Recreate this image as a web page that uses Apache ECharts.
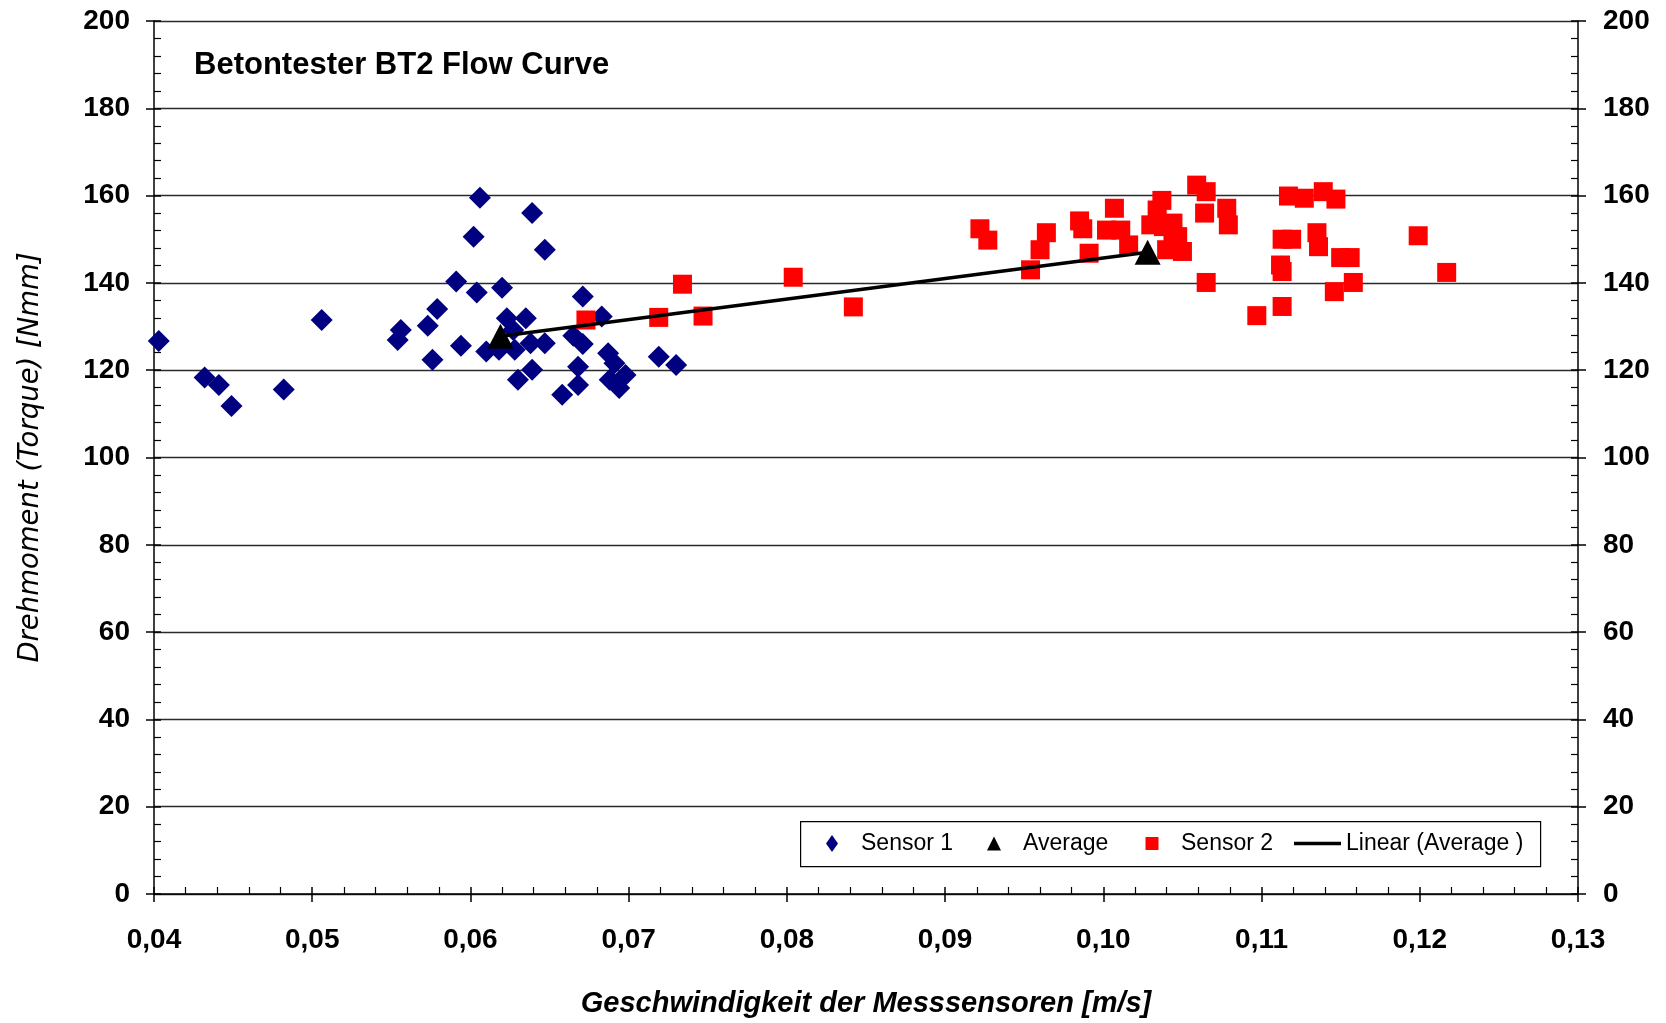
<!DOCTYPE html>
<html>
<head>
<meta charset="utf-8">
<script src="https://cdn.jsdelivr.net/npm/echarts@6/dist/echarts.min.js"></script>
<style>
html,body{margin:0;padding:0;background:#fff;}
#chart{width:1666px;height:1023px;}
</style>
</head>
<body>
<div id="chart"></div>
<script>
// ---- data ----
const sensor1X = [0.0403,0.0432,0.0441,0.0449,0.0482,0.0506,0.0554,0.0556,0.0573,0.0579,0.0576,0.0591,0.0594,0.0602,0.0606,0.0604,0.0610,0.0620,0.0623,0.0635,0.0627,0.0628,0.0630,0.0639,0.0638,0.0639,0.0647,0.0647,0.0658,0.0668,0.0668,0.0671,0.0665,0.0671,0.0683,0.0687,0.0688,0.0694,0.0691,0.0698,0.0719,0.0730,0.0618];
const sensor1Y = [126.7,118.3,116.6,111.8,115.6,131.5,126.9,129.2,130.2,134.0,122.4,140.3,125.6,150.6,159.5,137.8,124.3,138.9,131.9,131.9,129.2,124.7,117.8,120.1,126.2,156.0,147.6,126.2,114.4,116.6,120.8,136.9,127.9,126.0,132.3,123.9,117.8,115.9,121.6,118.9,123.1,121.2,124.7];

const sensor2X = [0.0673,0.0719,0.0734,0.0747,0.0804,0.0842,0.0922,0.0927,0.0954,0.0960,0.0964,0.0985,0.0987,0.0991,0.1002,0.1007,0.1011,0.1016,0.1030,0.1034,0.1037,0.1038,0.1040,0.1044,0.1047,0.1050,0.1044,0.1059,0.1065,0.1064,0.1065,0.1078,0.1079,0.1097,0.1112,0.1113,0.1113,0.1113,0.1119,0.1117,0.1127,0.1135,0.1136,0.1139,0.1146,0.1147,0.1150,0.1156,0.1158,0.1199,0.1217];
const sensor2Y = [131.5,132.1,139.7,132.4,141.3,134.5,152.4,149.8,143.0,147.6,151.5,154.2,152.4,146.8,152.1,157.1,152.1,148.7,153.3,156.7,158.9,152.9,147.6,153.7,150.6,147.2,149.8,162.4,160.9,156.0,140.1,157.1,153.3,132.5,144.1,142.6,134.6,150.0,150.0,159.9,159.4,151.5,148.3,160.9,138.0,159.2,145.8,145.8,140.1,150.8,142.4];

const averageX = [0.0619,0.1028];
const averageY = [127.8,147.0];

const trendX = [0.0619,0.1028];
const trendY = [127.8,147.0];

const seriesNames = ['Sensor 1','Average','Sensor 2','Linear (Average )'];
const titleText = 'Betontester BT2 Flow Curve';
const xTitle = 'Geschwindigkeit der Messsensoren [m/s]';
const yTitle = 'Drehmoment (Torque) [Nmm]';
const xMin = 0.04, xMax = 0.13, xStep = 0.01;
const yMin = 0, yMax = 200, yStep = 20;

// ---- build ----
const zip = (xs, ys) => xs.map((x, i) => [x, ys[i]]);
const FONT = 'Liberation Sans, Arial, sans-serif';
const tickLabel = {fontSize: 28, fontWeight: 'bold', color: '#000', fontFamily: FONT};
const axisLineStyle = {color: '#000', width: 1.5};

const legendIcons = [
  'path://M0,0M34,20M10,1.5L16,10L10,18.5L4,10Z',
  'path://M0,0M34,20M10,3L17,17L3,17Z',
  'path://M0,0M34,20M3.5,3.5H16.5V16.5H3.5Z',
  'path://M0,0M47,20M0,8.25H47V11.75H0Z'
];
const legendLefts = [822, 984, 1142, 1294];
const legendBase = {
  top: 832, padding: 0, selectedMode: false, symbolKeepAspect: true,
  itemHeight: 20, itemGap: 0,
  itemStyle: {borderWidth: 0},
  textStyle: {fontSize: 23, color: '#000', fontFamily: FONT}
};
const legends = seriesNames.map((n, i) => Object.assign({}, legendBase, {
  left: legendLefts[i],
  itemWidth: i === 3 ? 47 : 34,
  data: [{name: n, icon: legendIcons[i]}]
}));

const chart = echarts.init(document.getElementById('chart'), null, {renderer: 'canvas'});
chart.setOption({
  animation: false,
  backgroundColor: '#fff',
  title: {
    text: titleText, left: 194, top: 50, padding: 0,
    textStyle: {fontSize: 31, fontWeight: 'bold', color: '#000', fontFamily: FONT}
  },
  graphic: [{
    type: 'rect', left: 800, top: 821, z: 3,
    shape: {width: 740, height: 45},
    style: {fill: '#fff', stroke: '#000', lineWidth: 1.2}
  }],
  legend: legends,
  grid: {left: 154, top: 21, width: 1424, height: 873, containLabel: false},
  xAxis: [
    {
      type: 'value', position: 'bottom', min: xMin, max: xMax, interval: xStep,
      axisLine: {lineStyle: axisLineStyle},
      axisTick: {inside: true, length: 7, lineStyle: {color: '#000', width: 1.5}},
      minorTick: {show: true, splitNumber: 5, length: 7, lineStyle: {color: '#000', width: 1.2}},
      splitLine: {show: false},
      axisLabel: Object.assign({margin: 32, showMinLabel: true, showMaxLabel: true,
        formatter: v => v.toFixed(2).replace('.', ',')}, tickLabel),
      name: xTitle, nameLocation: 'middle', nameGap: 95,
      nameTextStyle: {fontSize: 29, fontWeight: 'bold', fontStyle: 'italic', color: '#000', fontFamily: FONT}
    },
    {
      type: 'value', position: 'bottom', min: xMin, max: xMax, interval: xStep,
      axisLine: {show: false},
      axisTick: {inside: false, length: 8, lineStyle: {color: '#000', width: 1.5}},
      axisLabel: {show: false}, splitLine: {show: false}
    }
  ],
  yAxis: [
    {
      type: 'value', position: 'left', min: yMin, max: yMax, interval: yStep,
      axisLine: {show: true, lineStyle: axisLineStyle},
      axisTick: {show: true, inside: true, length: 7, lineStyle: {color: '#000', width: 1.5}},
      minorTick: {show: true, splitNumber: 5, length: 7, lineStyle: {color: '#000', width: 1.2}},
      splitLine: {show: true, lineStyle: {color: '#2b2b2b', width: 1.3}},
      axisLabel: Object.assign({margin: 24}, tickLabel),
      name: yTitle, nameLocation: 'middle', nameGap: 110,
      nameTextStyle: {fontSize: 27.5, fontStyle: 'italic', fontWeight: 'normal', color: '#000', fontFamily: 'DejaVu Sans, sans-serif'}
    },
    {
      type: 'value', position: 'left', min: yMin, max: yMax, interval: yStep,
      axisLine: {show: false},
      axisTick: {show: true, inside: false, length: 8, lineStyle: {color: '#000', width: 1.5}},
      axisLabel: {show: false}, splitLine: {show: false}
    },
    {
      type: 'value', position: 'right', min: yMin, max: yMax, interval: yStep,
      axisLine: {show: true, lineStyle: axisLineStyle},
      axisTick: {show: true, inside: true, length: 7, lineStyle: {color: '#000', width: 1.5}},
      minorTick: {show: true, splitNumber: 5, length: 7, lineStyle: {color: '#000', width: 1.2}},
      splitLine: {show: false},
      axisLabel: Object.assign({margin: 25}, tickLabel)
    },
    {
      type: 'value', position: 'right', min: yMin, max: yMax, interval: yStep,
      axisLine: {show: false},
      axisTick: {show: true, inside: false, length: 8, lineStyle: {color: '#000', width: 1.5}},
      axisLabel: {show: false}, splitLine: {show: false}
    }
  ],
  series: [
    {
      name: seriesNames[0], type: 'scatter', xAxisIndex: 0, yAxisIndex: 0,
      data: zip(sensor1X, sensor1Y), symbol: 'diamond', symbolSize: 22,
      itemStyle: {color: '#000080', opacity: 1}
    },
    {
      name: seriesNames[1], type: 'scatter', xAxisIndex: 0, yAxisIndex: 0,
      data: zip(averageX, averageY), symbol: 'triangle', symbolSize: [26, 25],
      itemStyle: {color: '#000', opacity: 1}
    },
    {
      name: seriesNames[2], type: 'scatter', xAxisIndex: 0, yAxisIndex: 0,
      data: zip(sensor2X, sensor2Y), symbol: 'rect', symbolSize: 19,
      itemStyle: {color: '#FF0000', opacity: 1}
    },
    {
      name: seriesNames[3], type: 'line', xAxisIndex: 0, yAxisIndex: 0,
      data: zip(trendX, trendY), showSymbol: false, symbol: 'none',
      lineStyle: {color: '#000', width: 3.5},
      itemStyle: {color: '#000'}
    }
  ]
});
</script>
</body>
</html>
